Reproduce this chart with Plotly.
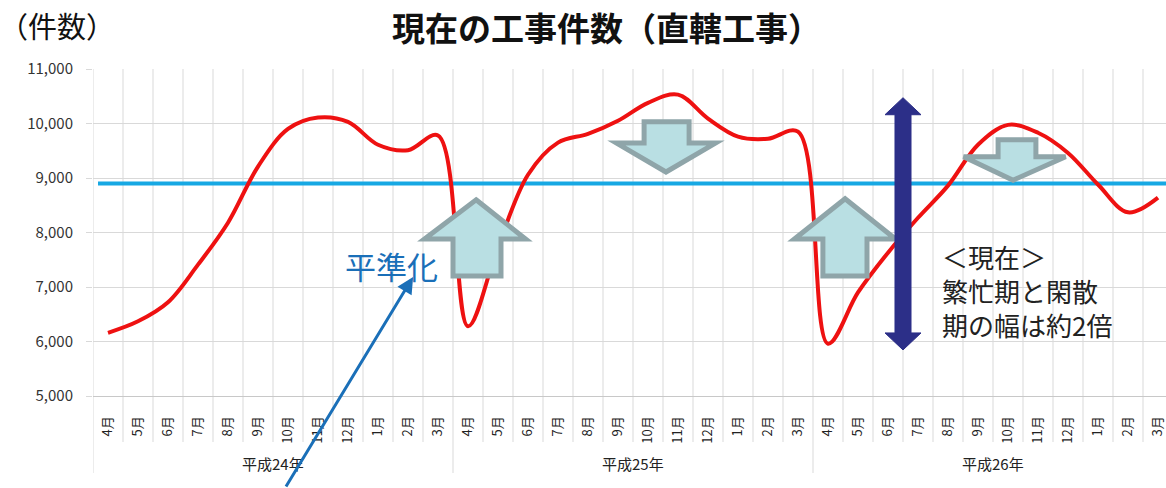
import plotly.graph_objects as go

# ---- data ----
months = ["4月", "5月", "6月", "7月", "8月", "9月", "10月", "11月", "12月", "1月", "2月", "3月"] * 3
years = ["平成24年", "平成25年", "平成26年"]
counts = [6160, 6370, 6720, 7410, 8180, 9210, 9900, 10110, 10030, 9610, 9510, 9780,
          6280, 7740, 9060, 9650, 9810, 10050, 10380, 10530, 10090, 9760, 9720, 9850,
          5960, 6900, 7630, 8270, 8860, 9610, 9975, 9830, 9460, 8880, 8370, 8640]
average_level = 8900
y_ticks = [5000, 6000, 7000, 8000, 9000, 10000, 11000]

x_idx = list(range(len(months)))

W, H = 1166, 488
ML, MR, MT, MB = 93, 0, 69, 92
plot_w = W - ML - MR
plot_h = H - MT - MB
x_end = -0.5 + plot_w / 30.0

FONT = "Noto Sans CJK JP"

fig = go.Figure()

fig.add_trace(go.Scatter(
    x=x_idx, y=counts, mode="lines",
    line=dict(color="#ee1111", width=4, shape="spline", smoothing=1.0),
    hoverinfo="skip", showlegend=False,
))

shapes = []
# vertical gridlines / separators at category boundaries
for k in range(len(months) + 1):
    xb = k - 0.5
    y0 = -(77 / plot_h) if k % 12 == 0 else -(46 / plot_h)
    shapes.append(dict(type="line", xref="x", yref="paper", x0=xb, x1=xb, y0=y0, y1=1,
                       line=dict(color="#d9d9d9", width=1), layer="below"))

# average (levelled) line
shapes.append(dict(type="line", xref="x", yref="y", x0=-0.333, x1=x_end + 1, y0=average_level, y1=average_level,
                   line=dict(color="#17a8e3", width=4), layer="between"))

def poly(pts):
    return "M " + " L ".join(f"{x},{y}" for x, y in pts) + " Z"

ARROW_FILL = "#b9dfe3"
ARROW_LINE = "#8fa5a9"

def up_arrow(tip_x, tip_y, head_y, head_l, head_r, sh_l, sh_r, bottom):
    return poly([(tip_x, tip_y), (head_r, head_y), (sh_r, head_y), (sh_r, bottom),
                 (sh_l, bottom), (sh_l, head_y), (head_l, head_y)])

def down_arrow(top, sh_l, sh_r, head_y, head_l, head_r, tip_x, tip_y):
    return poly([(sh_l, top), (sh_r, top), (sh_r, head_y), (head_r, head_y),
                 (tip_x, tip_y), (head_l, head_y), (sh_l, head_y)])

block_arrows = [
    up_arrow(12.27, 8600, 7880, 10.55, 13.92, 11.5, 13.1, 7200),
    up_arrow(24.57, 8620, 7880, 22.88, 26.25, 23.83, 25.3, 7200),
    down_arrow(10030, 17.87, 19.37, 9640, 16.95, 20.25, 18.6, 9110),
    down_arrow(9700, 29.67, 30.93, 9390, 28.52, 31.92, 30.17, 8960),
]
for p in block_arrows:
    shapes.append(dict(type="path", xref="x", yref="y", path=p,
                       fillcolor=ARROW_FILL, line=dict(color=ARROW_LINE, width=5), layer="above"))

# double-headed range arrow
dx, top_v, bot_v, head_len, hw, sw = 26.5, 10473, 5845, 312, 0.6, 0.267
shapes.append(dict(type="path", xref="x", yref="y", layer="above",
                   path=poly([(dx, top_v), (dx + hw, top_v - head_len), (dx + sw, top_v - head_len),
                              (dx + sw, bot_v + head_len), (dx + hw, bot_v + head_len), (dx, bot_v),
                              (dx - hw, bot_v + head_len), (dx - sw, bot_v + head_len),
                              (dx - sw, top_v - head_len), (dx - hw, top_v - head_len)]),
                   fillcolor="#2c2f88", line=dict(color="#2c2f88", width=1)))

annotations = []
# year labels
for i, yl in enumerate(years):
    annotations.append(dict(text=yl, xref="x", yref="paper", x=i * 12 + 5.5, y=-(67 / plot_h),
                            showarrow=False, font=dict(family=FONT, size=15, color="#222222"),
                            xanchor="center", yanchor="middle"))

# title
annotations.append(dict(text="<b>現在の工事件数（直轄工事）</b>", xref="paper", yref="paper",
                        x=(606 - ML) / plot_w, y=(MT + plot_h - 1) / plot_h, showarrow=False,
                        xanchor="center", yanchor="top",
                        font=dict(family=FONT, size=33, color="#111111")))
# y-axis unit
annotations.append(dict(text="（件数）", xref="paper", yref="paper",
                        x=-(ML + 3) / plot_w, y=(MT + plot_h - 25) / plot_h, showarrow=False,
                        xanchor="left", yanchor="middle",
                        font=dict(family=FONT, size=29, color="#111111")))
# levelling label
annotations.append(dict(text="平準化", xref="paper", yref="paper",
                        x=(391 - ML) / plot_w, y=(MT + plot_h - 265) / plot_h, showarrow=False,
                        xanchor="center", yanchor="middle",
                        font=dict(family=FONT, size=31, color="#1a6fb8")))
# thin blue arrow
annotations.append(dict(text="", x=10.17, y=7185, xref="x", yref="y", showarrow=True,
                        ax=-128, ay=211, arrowhead=2, arrowsize=1.1, arrowwidth=3,
                        arrowcolor="#1a6fb8"))
# current note
annotations.append(dict(text="＜現在＞<br>繁忙期と閑散<br>期の幅は約2倍", xref="paper", yref="paper",
                        x=(940 - ML) / plot_w, y=(MT + plot_h - 290) / plot_h, showarrow=False,
                        xanchor="left", yanchor="middle", align="left",
                        font=dict(family=FONT, size=26, color="#222222")))

fig.update_layout(
    width=W, height=H,
    margin=dict(l=ML, r=MR, t=MT, b=MB, pad=0),
    paper_bgcolor="white", plot_bgcolor="white",
    shapes=shapes, annotations=annotations,
    xaxis=dict(range=[-0.5, x_end], tickmode="array", tickvals=x_idx, ticktext=months,
               tickangle=-90, showgrid=False, zeroline=False, showline=True, linecolor="#c8c8c8",
               ticks="", ticklabelstandoff=14, ticklabeloverflow="allow",
               tickfont=dict(family=FONT, size=13, color="#222222")),
    yaxis=dict(range=[5000, 11000], tickmode="array", tickvals=y_ticks, tickformat=",",
               showgrid=True, gridcolor="#d9d9d9", gridwidth=1, zeroline=False,
               ticks="outside", ticklen=6, tickcolor="#d9d9d9", ticklabelstandoff=10,
               tickfont=dict(family=FONT, size=15, color="#333333")),
)

fig.write_html("out.html")
